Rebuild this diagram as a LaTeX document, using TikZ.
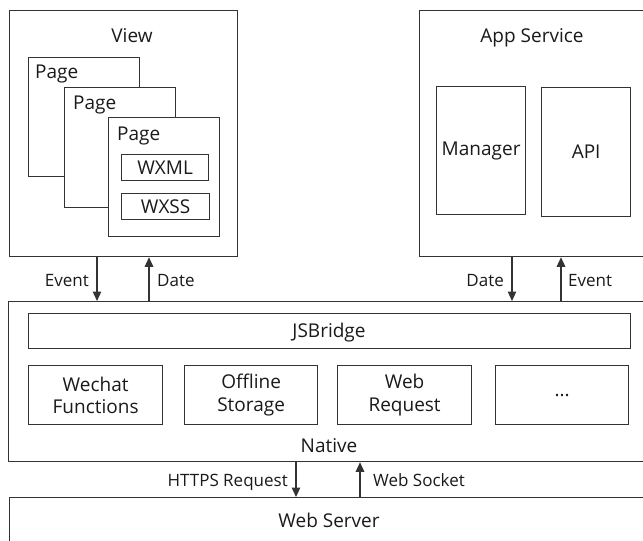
\documentclass[tikz,border=0pt]{standalone}
\usepackage{fontspec}
\setmainfont{Open Sans}
\usetikzlibrary{arrows.meta}
\definecolor{ln}{HTML}{333333}
\definecolor{tx}{HTML}{1A1A1A}
\begin{document}
\begin{tikzpicture}[x=1pt,y=-1pt,
  font=\fontsize{19}{22.5}\selectfont,
  box/.style={draw=ln, line width=1.25pt, fill=white, inner sep=0pt, text=tx, align=center, anchor=north west},
  lbl/.style={text=tx, inner sep=0pt, anchor=base},
  small/.style={lbl, font=\fontsize{17}{20}\selectfont},
  arr/.style={draw=ln, line width=1.25pt, -{Triangle[length=9.5pt,width=8.5pt]}},
]
\useasboundingbox (0,0) rectangle (643,541);
\fill[white] (0,0) rectangle (643,541);
\clip (0,0) rectangle (643,541);

% View
\node[box, minimum width=228pt, minimum height=246pt] (view) at (9,10) {};
\node[lbl] (viewl) at (132,42) {View};
\node[box, minimum width=111pt, minimum height=119pt] (page1) at (28,57) {};
\node[lbl, anchor=base west] (page1l) at (35,78) {Page};
\node[box, minimum width=111pt, minimum height=120pt] (page2) at (64,87) {};
\node[lbl, anchor=base west] (page2l) at (73,109) {Page};
\node[box, minimum width=111pt, minimum height=119pt] (page3) at (108,117) {};
\node[lbl, anchor=base west] (page3l) at (117,140) {Page};
\node[box, minimum width=87pt, minimum height=26pt] (wxml) at (121,154) {WXML};
\node[box, minimum width=88pt, minimum height=26pt] (wxss) at (121,193) {WXSS};

% App Service
\node[box, minimum width=260pt, minimum height=246pt] (app) at (419,10) {};
\node[lbl] (appl) at (532,42) {App Service};
\node[box, minimum width=89pt, minimum height=128pt] (manager) at (436,86) {Manager};
\node[box, minimum width=89pt, minimum height=129pt] (api) at (541,87) {API};

% Native
\node[box, minimum width=680pt, minimum height=160pt] (native) at (8,301) {};
\node[box, minimum width=602pt, minimum height=35pt] (jsb) at (28,313) {};
\node[lbl] (jsbl) at (329,337) {JSBridge};
\node[box, minimum width=134pt, minimum height=59pt] (wechat) at (28,365) {Wechat\\Functions};
\node[box, minimum width=133pt, minimum height=59pt] (offline) at (184,365) {Offline\\Storage};
\node[box, minimum width=134pt, minimum height=59pt] (webreq) at (337,365) {Web\\Request};
\node[box, minimum width=133pt, minimum height=59pt] (more) at (495,365) {...};
\node[lbl] (nativel) at (329,452) {Native};

% Web Server
\node[box, minimum width=680pt, minimum height=80pt] (server) at (9,497) {};
\node[lbl] (serverl) at (329,527) {Web Server};

% connectors
\draw[arr] (view.south -| 97,0) -- (native.north -| 97,0);
\draw[arr] (native.north -| 149,0) -- (view.south -| 149,0);
\node[small, anchor=base east] (ev1) at (89,286) {Event};
\node[small, anchor=base west] (da1) at (157,286) {Date};

\draw[arr] (app.south -| 512,0) -- (native.north -| 512,0);
\draw[arr] (native.north -| 561,0) -- (app.south -| 561,0);
\node[small, anchor=base east] (da2) at (504,286) {Date};
\node[small, anchor=base west] (ev2) at (568,286) {Event};

\draw[arr] (native.south -| 296,0) -- (server.north -| 296,0);
\draw[arr] (server.north -| 360,0) -- (native.south -| 360,0);
\node[small, anchor=base east] (https) at (288,486) {HTTPS Request};
\node[small, anchor=base west] (ws) at (373,486) {Web Socket};
\end{tikzpicture}
\end{document}
